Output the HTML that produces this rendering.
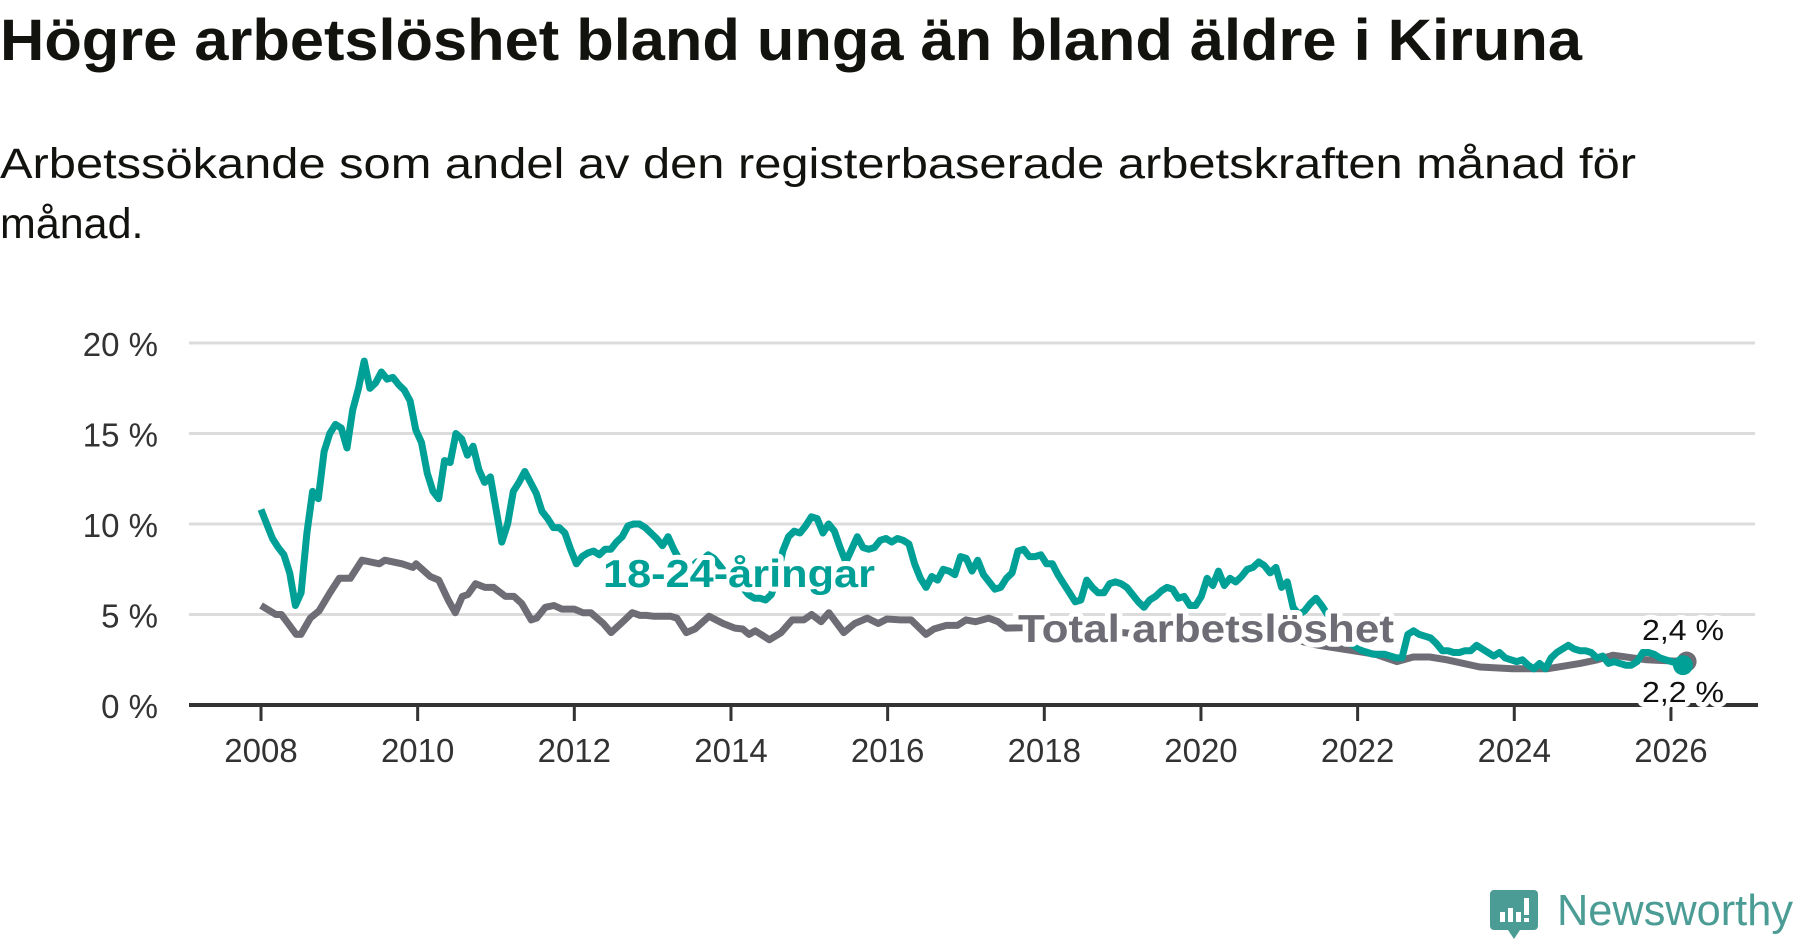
<!DOCTYPE html>
<html><head><meta charset="utf-8"><style>
html,body{margin:0;padding:0;background:#fff;}
svg{display:block;font-family:"Liberation Sans",sans-serif;}
</style></head><body>
<svg id="chart" width="1800" height="948" viewBox="0 0 1800 948" xmlns="http://www.w3.org/2000/svg">
<text x="0" y="60" font-size="58" font-weight="bold" fill="#12120e" textLength="1582" lengthAdjust="spacingAndGlyphs">Högre arbetslöshet bland unga än bland äldre i Kiruna</text>
<text x="0" y="178" font-size="43" fill="#12120e" textLength="1636" lengthAdjust="spacingAndGlyphs">Arbetssökande som andel av den registerbaserade arbetskraften månad för</text>
<text x="0" y="238" font-size="43" fill="#12120e">månad.</text>
<g id="grid"></g>
<g id="xaxis"></g>
<g id="yaxis"></g>
<g id="series"></g>
<g id="labels"></g>
<g>
<path d="M1494 890 h40 a4 4 0 0 1 4 4 v32 a4 4 0 0 1 -4 4 h-14 l-6 9 l-6 -9 h-14 a4 4 0 0 1 -4 -4 v-32 a4 4 0 0 1 4 -4z" fill="#4a9c95"/>
<rect x="1500" y="912" width="5" height="10" fill="#fff"/><rect x="1508" y="908" width="5" height="14" fill="#fff"/><rect x="1516" y="912" width="5" height="10" fill="#fff"/><rect x="1524" y="898" width="5" height="17" fill="#fff"/><rect x="1524" y="918" width="5" height="4" fill="#fff"/>
<text x="1557" y="925" font-size="44" fill="#4a9c95" textLength="236" lengthAdjust="spacingAndGlyphs">Newsworthy</text>
</g>
</svg>
<script>
// Y-axis ticks (percent)
const yTicks = [0, 5, 10, 15, 20];
const yTickLabels = ["0 %", "5 %", "10 %", "15 %", "20 %"];
// X-axis ticks (years)
const xTicks = [2008, 2010, 2012, 2014, 2016, 2018, 2020, 2022, 2024, 2026];
// 18-24-year-olds, sampled at uniform step starting 2008.0
const youthStart = 2008;
const youthStep = 0.0732;
const youthValues = [10.8,10.0,9.2,8.7,8.3,7.3,5.5,6.2,9.5,11.8,11.4,14.0,15.0,15.5,15.3,14.2,16.3,17.5,19.0,17.5,17.8,18.4,18.0,18.1,17.7,17.4,16.8,15.2,14.5,12.8,11.8,11.4,13.5,13.4,15.0,14.7,13.8,14.3,13.0,12.3,12.6,10.8,9.0,10.0,11.8,12.3,12.9,12.3,11.7,10.7,10.3,9.8,9.8,9.5,8.6,7.8,8.2,8.4,8.5,8.3,8.6,8.6,9.0,9.3,9.9,10.0,10.0,9.8,9.5,9.2,8.8,9.3,8.6,8.0,7.8,7.6,7.9,8.0,8.3,8.1,7.7,7.3,7.0,6.8,6.5,6.1,5.9,5.9,5.8,6.1,7.0,8.5,9.3,9.6,9.5,9.9,10.4,10.3,9.5,10.0,9.6,8.7,7.9,8.6,9.3,8.7,8.6,8.7,9.1,9.2,9.0,9.2,9.1,8.9,7.8,7.0,6.5,7.1,6.9,7.5,7.4,7.2,8.2,8.1,7.4,8.0,7.2,6.8,6.4,6.5,7.0,7.3,8.5,8.6,8.2,8.2,8.3,7.8,7.8,7.2,6.7,6.2,5.7,5.8,6.9,6.5,6.2,6.2,6.7,6.8,6.7,6.5,6.1,5.7,5.4,5.8,6.0,6.3,6.5,6.4,5.9,6.0,5.5,5.5,6.0,7.0,6.6,7.4,6.6,7.0,6.8,7.1,7.5,7.6,7.9,7.7,7.3,7.6,6.5,6.8,5.4,5.0,5.2,5.6,5.9,5.5,5.0,4.6,4.2,3.8,3.4,3.2,3.0,2.9,2.8,2.8,2.8,2.7,2.6,2.6,3.9,4.1,3.9,3.8,3.7,3.4,3.0,3.0,2.9,2.9,3.0,3.0,3.3,3.1,2.9,2.7,2.9,2.6,2.5,2.4,2.5,2.2,2.0,2.3,2.0,2.6,2.9,3.1,3.3,3.1,3.0,3.0,2.9,2.6,2.7,2.3,2.4,2.3,2.2,2.2,2.4,2.9,2.9,2.8,2.6,2.5,2.4,2.3,2.2];
// Total unemployment
const totalYears = [2008.0,2008.19,2008.26,2008.33,2008.45,2008.51,2008.63,2008.74,2008.88,2009.0,2009.14,2009.29,2009.51,2009.58,2009.80,2009.94,2009.98,2010.16,2010.27,2010.39,2010.48,2010.57,2010.64,2010.74,2010.86,2010.97,2011.12,2011.23,2011.33,2011.45,2011.52,2011.63,2011.74,2011.84,2012.0,2012.11,2012.21,2012.37,2012.47,2012.62,2012.74,2012.84,2012.92,2013.02,2013.23,2013.31,2013.43,2013.54,2013.72,2013.90,2014.05,2014.15,2014.23,2014.31,2014.49,2014.64,2014.78,2014.93,2015.03,2015.15,2015.25,2015.44,2015.58,2015.74,2015.88,2015.99,2016.16,2016.30,2016.49,2016.59,2016.75,2016.89,2017.0,2017.12,2017.29,2017.41,2017.51,2018.0,2018.5,2019.0,2019.5,2020.0,2020.5,2021.0,2021.5,2021.94,2022.23,2022.50,2022.71,2022.92,2023.14,2023.56,2023.98,2024.42,2024.84,2025.06,2025.26,2025.69,2026.20];
const totalValues = [5.5,5.0,5.0,4.6,3.9,3.9,4.8,5.2,6.2,7.0,7.0,8.0,7.8,8.0,7.8,7.6,7.8,7.1,6.9,5.8,5.1,6.0,6.1,6.7,6.5,6.5,6.0,6.0,5.6,4.7,4.8,5.4,5.5,5.3,5.3,5.1,5.1,4.5,4.0,4.6,5.1,4.95,4.95,4.9,4.9,4.8,4.0,4.2,4.9,4.5,4.25,4.2,3.9,4.1,3.6,4.0,4.7,4.7,5.0,4.6,5.1,4.0,4.5,4.8,4.5,4.75,4.7,4.7,3.9,4.2,4.4,4.4,4.7,4.6,4.8,4.6,4.25,4.3,4.0,4.0,3.8,3.9,4.2,3.8,3.3,3.0,2.8,2.4,2.65,2.65,2.5,2.1,2.0,2.0,2.3,2.5,2.75,2.5,2.4];

const NS = "http://www.w3.org/2000/svg";
const x0 = 261, yearPx = 78.33, y0 = 705, pctPx = 18.1;
function xScale(yr){ return x0 + (yr - 2008) * yearPx; }
function yScale(v){ return y0 - v * pctPx; }
function mk(tag, attrs, parent){ const e = document.createElementNS(NS, tag); for (const k in attrs) e.setAttribute(k, attrs[k]); parent.appendChild(e); return e; }

const grid = document.getElementById('grid');
const yaxis = document.getElementById('yaxis');
yTicks.forEach((t, i) => {
  if (t > 0) {
    const l = mk('line', {x1:189, x2:1755, y1:yScale(t), y2:yScale(t), stroke:'#dcdcdc', 'stroke-width':3}, grid);
    
    
  }
  const tx = mk('text', {x:158, y:yScale(t)+13, 'text-anchor':'end', 'font-size':33, fill:'#333'}, yaxis);
  
  
  tx.textContent = yTickLabels[i];
});
const xaxis = document.getElementById('xaxis');
xTicks.forEach(t => {
  const tk = mk('line', {x1:xScale(t), x2:xScale(t), y1:705, y2:721, stroke:'#333', 'stroke-width':3}, xaxis);
  
  
  const tx = mk('text', {x:xScale(t), y:762, 'text-anchor':'middle', 'font-size':33, fill:'#333'}, xaxis);
  
  
  tx.textContent = t;
});
const ax = mk('line', {x1:189, x2:1758, y1:705, y2:705, stroke:'#333', 'stroke-width':4}, xaxis);



const series = document.getElementById('series');
const tp = totalValues.map((v, i) => xScale(totalYears[i]).toFixed(1) + ',' + yScale(v).toFixed(1));
const totalLine = mk('polyline', {points:tp.join(' '), fill:'none', stroke:'#6e6d75', 'stroke-width':7, 'stroke-linejoin':'round'}, series);


const yp = youthValues.map((v, i) => xScale(youthStart + i * youthStep).toFixed(1) + ',' + yScale(v).toFixed(1));
const youthLine = mk('polyline', {points:yp.join(' '), fill:'none', stroke:'#00a097', 'stroke-width':7, 'stroke-linejoin':'round'}, series);


const lastT = totalValues.length - 1;
const dotT = mk('circle', {cx:xScale(totalYears[lastT]), cy:yScale(totalValues[lastT]), r:10, fill:'#6e6d75'}, series);


const lastY = youthValues.length - 1;
const dotY = mk('circle', {cx:xScale(youthStart + lastY * youthStep), cy:yScale(youthValues[lastY]), r:10, fill:'#00a097'}, series);



const labels = document.getElementById('labels');
function lab(x, y, size, weight, color, len){
  const a = {x:x, y:y, 'font-size':size, 'font-weight':weight, fill:color, stroke:'#fff', 'stroke-width':10, 'stroke-linejoin':'round', 'paint-order':'stroke'};
  if (len) { a.textLength = len; a.lengthAdjust = 'spacingAndGlyphs'; }
  return mk('text', a, labels);
}
const l1 = lab(603, 587, 39, 'bold', '#00a097', 272);


l1.textContent = '18-24-åringar';
const l2 = lab(1018, 642, 39, 'bold', '#6e6d75', 376);


l2.textContent = 'Total arbetslöshet';
const l3 = lab(1642, 640, 29, 'normal', '#111', 82);


l3.textContent = '2,4 %';
const l4 = lab(1642, 702, 29, 'normal', '#111', 82);


l4.textContent = '2,2 %';
</script>
</body></html>
